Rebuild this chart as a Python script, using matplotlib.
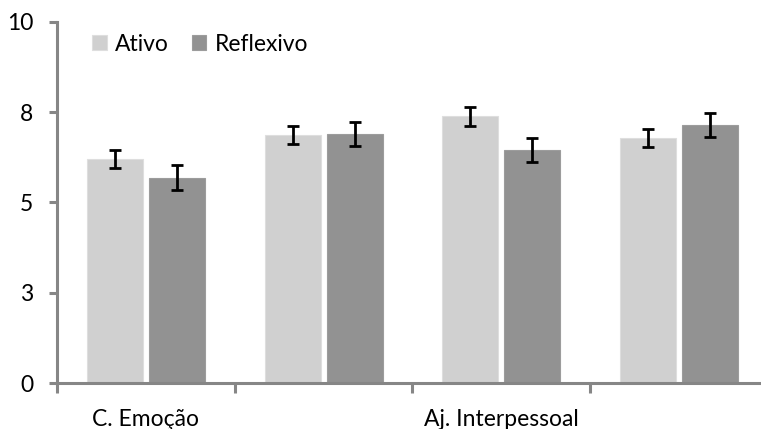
import numpy as np
import matplotlib
matplotlib.use("Agg")
import matplotlib.pyplot as plt
from matplotlib.ticker import FixedLocator, FixedFormatter

# Data
categories = ["C. Emoção", "", "Aj. Interpessoal", ""]
ativo = [6.20, 6.87, 7.39, 6.78]
ativo_err = [0.25, 0.25, 0.26, 0.25]
reflexivo = [5.69, 6.89, 6.45, 7.14]
reflexivo_err = [0.34, 0.33, 0.34, 0.33]
ytick_vals = [0, 2.5, 5, 7.5, 10]
ytick_labels = ["0", "3", "5", "8", "10"]

plt.rcParams["font.family"] = ["Lato", "DejaVu Sans"]

AXIS_GRAY = "#868686"
FS = 16.5

fig = plt.figure(figsize=(7.61, 4.29), dpi=100)
ax = fig.add_axes([57 / 761, 46 / 429, 711 / 761, 361 / 429])

x = np.arange(len(categories))
width = 0.315
off = 0.175

err_kw = dict(ecolor="black", elinewidth=2.0, capsize=4.6, capthick=2.0)
ax.bar(x - off, ativo, width, color="#d0d0d0", edgecolor="#dedede", linewidth=0.8,
       yerr=ativo_err, error_kw=err_kw, label="Ativo", zorder=2)
ax.bar(x + off, reflexivo, width, color="#929292", edgecolor="#9c9c9c", linewidth=0.8,
       yerr=reflexivo_err, error_kw=err_kw, label="Reflexivo", zorder=2)

ax.set_xlim(-0.5, len(categories) - 0.5)
ax.set_ylim(0, 10)

for side in ("top", "right"):
    ax.spines[side].set_visible(False)
for side in ("left", "bottom"):
    ax.spines[side].set_color(AXIS_GRAY)
    ax.spines[side].set_linewidth(2.2)

ax.yaxis.set_major_locator(FixedLocator(ytick_vals))
ax.yaxis.set_major_formatter(FixedFormatter(ytick_labels))
ax.tick_params(axis="y", length=6, width=2.2, color=AXIS_GRAY, pad=11,
               labelsize=FS, labelcolor="black")

ax.set_xticks(x)
ax.set_xticklabels(categories)
ax.set_xticks(np.arange(len(categories)) - 0.5, minor=True)
ax.tick_params(axis="x", which="major", length=0, pad=19, labelsize=FS)
ax.tick_params(axis="x", which="minor", length=7, width=2.2, color=AXIS_GRAY)

ax.legend(loc="upper left", bbox_to_anchor=(0.02, 1.025), ncol=2, frameon=False,
          fontsize=FS, handlelength=0.65, handleheight=0.65, handletextpad=0.35,
          columnspacing=1.0)

fig.savefig("out.png", dpi=100)
